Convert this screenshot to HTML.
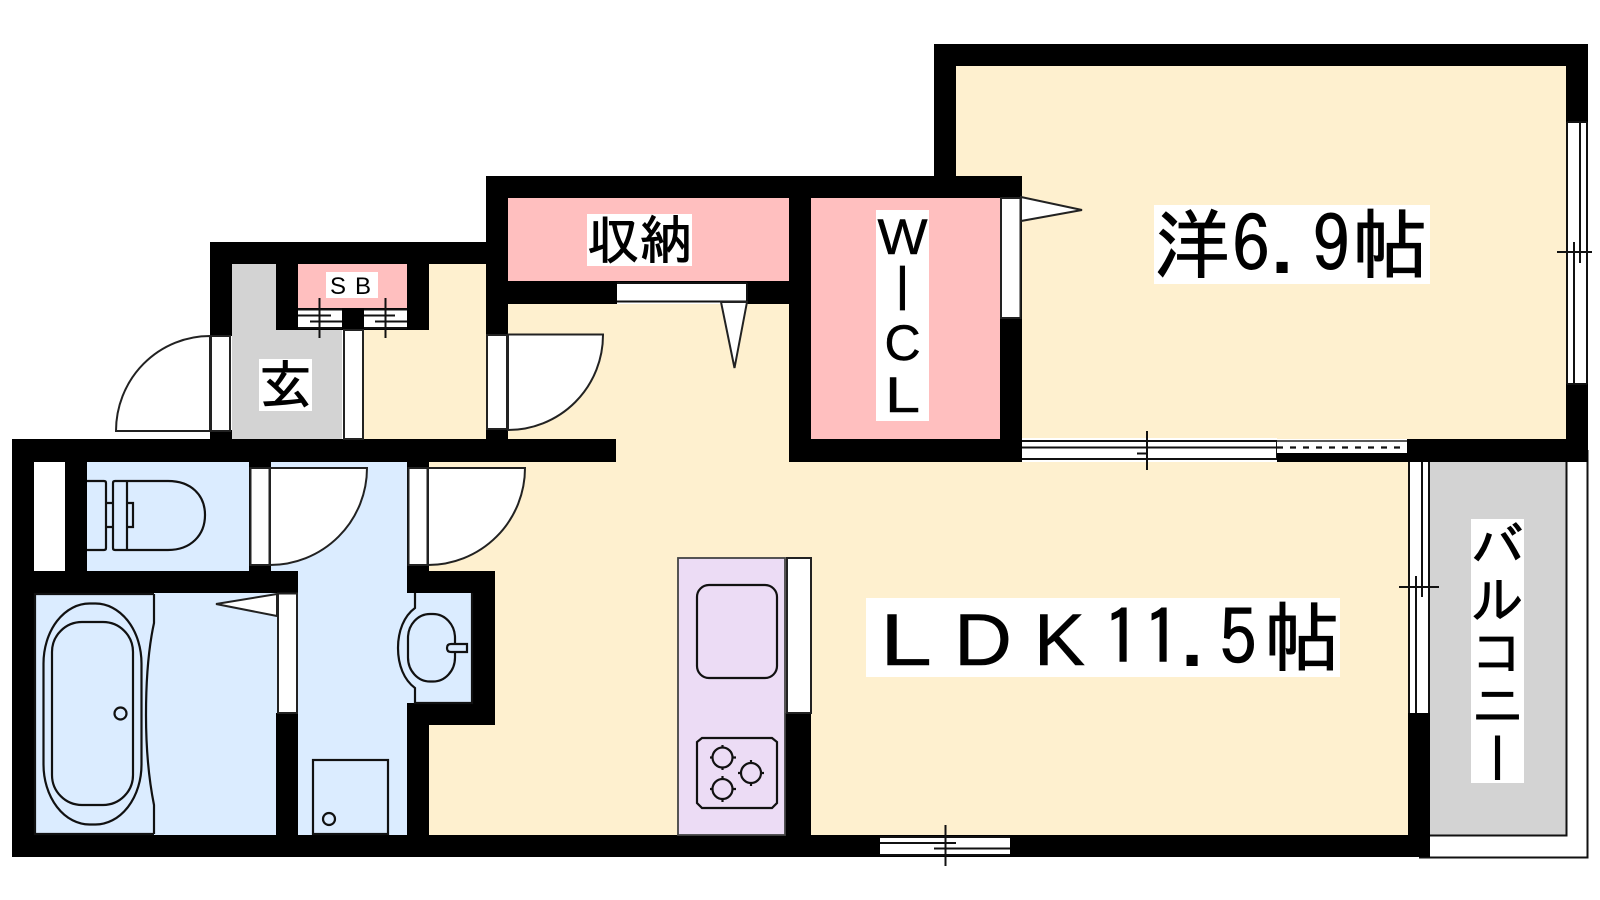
<!DOCTYPE html>
<html><head><meta charset="utf-8"><style>
html,body{margin:0;padding:0;background:#fff;width:1600px;height:900px;overflow:hidden}
svg{display:block}
.j{font-family:"IPAGothic","Noto Sans CJK JP",sans-serif;fill:#000;stroke:#000;stroke-width:.9}
.l{font-family:"Liberation Sans","IPAGothic",sans-serif;fill:#000;stroke:#000;stroke-width:.5}
.o{fill:none;stroke:#111;stroke-width:2.2}
.f{fill:#fff;stroke:#222;stroke-width:2}
.t{stroke:#111;stroke-width:2;fill:none}
</style></head><body>
<svg width="1600" height="900" viewBox="0 0 1600 900" xmlns="http://www.w3.org/2000/svg">
<rect width="1600" height="900" fill="#fff"/>
<!-- floors -->
<g fill="#FEF0CF">
<rect x="955" y="66" width="611" height="373"/>
<rect x="429" y="462" width="979" height="373"/>
<rect x="508" y="304" width="281" height="158"/>
<rect x="1000" y="430" width="408" height="40"/>
<rect x="364" y="264" width="122" height="175"/>
</g>
<g fill="#DBECFF">
<rect x="87" y="462" width="162" height="109"/>
<rect x="271" y="462" width="136" height="373"/>
<rect x="34" y="593" width="242" height="242"/>
<rect x="407" y="593" width="66" height="110"/>
</g>
<g fill="#FFBFBF">
<rect x="508" y="198" width="281" height="83"/>
<rect x="811" y="198" width="189" height="241"/>
<rect x="298" y="264" width="109" height="44"/>
</g>
<g fill="#D3D3D3">
<rect x="232" y="264" width="44" height="175"/>
<rect x="276" y="330" width="66" height="109"/>
<rect x="1430" y="462" width="136" height="373"/>
</g>
<!-- balcony outline -->
<path d="M1430,835.5H1566.5V462" class="t"/>
<path d="M1419,857.5H1587.5V450" class="t"/>
<!-- walls -->
<g fill="#000">
<rect x="934" y="44" width="654" height="22"/>
<rect x="934" y="44" width="22" height="132"/>
<rect x="1566" y="44" width="22" height="78"/>
<rect x="1566" y="384" width="22" height="78"/>
<rect x="1407" y="439" width="181" height="23"/>
<rect x="486" y="176" width="536" height="22"/>
<rect x="1000" y="176" width="22" height="286"/>
<rect x="789" y="439" width="233" height="23"/>
<rect x="789" y="176" width="22" height="286"/>
<rect x="486" y="281" width="303" height="23"/>
<rect x="486" y="176" width="22" height="159"/>
<rect x="486" y="429" width="22" height="10"/>
<rect x="210" y="242" width="276" height="22"/>
<rect x="210" y="242" width="22" height="94"/>
<rect x="210" y="430" width="22" height="10"/>
<rect x="276" y="264" width="22" height="66"/>
<rect x="407" y="264" width="22" height="66"/>
<rect x="298" y="308" width="109" height="22"/>
<rect x="12" y="439" width="604" height="23"/>
<rect x="12" y="439" width="22" height="418"/>
<rect x="12" y="835" width="1418" height="22"/>
<rect x="1408" y="713" width="22" height="144"/>
<rect x="65" y="462" width="22" height="109"/>
<rect x="12" y="571" width="286" height="22"/>
<rect x="249" y="462" width="22" height="109"/>
<rect x="407" y="462" width="22" height="131"/>
<rect x="407" y="571" width="88" height="22"/>
<rect x="473" y="571" width="22" height="154"/>
<rect x="407" y="703" width="88" height="22"/>
<rect x="407" y="703" width="22" height="154"/>
<rect x="276" y="713" width="22" height="130"/>
<rect x="785" y="713" width="26" height="130"/>
</g>
<!-- SB windows -->
<rect x="298" y="309" width="44" height="20" fill="#fff"/>
<rect x="364" y="309" width="43" height="20" fill="#fff"/>
<path d="M298,309.5H342M298,315.5H331M310,321.5H342M298,328H342M364,309.5H407M364,315.5H395M375,321.5H407M364,328H407M319.5,298V338M385.5,298V338" class="t"/>
<!-- door frames -->
<path d="M116,431H210V336A94,95 0 0 0 116,431Z" class="f"/>
<rect x="211" y="336" width="19" height="95" class="f"/>
<rect x="344" y="330" width="19" height="109" class="f"/>
<rect x="487" y="335" width="20" height="94" class="f"/>
<path d="M508,334.5H603A95,95 0 0 1 508,430Z" class="f"/>
<rect x="250.5" y="468" width="19" height="97" class="f"/>
<path d="M270,468H367A97,97 0 0 1 270,565Z" class="f"/>
<rect x="408.5" y="468" width="19" height="97" class="f"/>
<path d="M428,468H525A97,97 0 0 1 428,565Z" class="f"/>
<rect x="278" y="593.5" width="19" height="119.5" class="f"/>
<path d="M277,594L216,604L277,616Z" class="f"/>
<rect x="1001" y="198" width="19.5" height="120" class="f"/>
<path d="M1021,197L1082,210L1021,221Z" class="f"/>
<!-- storage door -->
<rect x="617" y="282" width="130" height="22" fill="#fff"/>
<path d="M617,283H747M617,301.5H747M747,283V301" class="t"/>
<path d="M721,302L747,302L734.5,368Z" class="f"/>
<!-- windows -->
<rect x="1022" y="438" width="255" height="24" fill="#fff"/>
<path d="M1022,441H1277M1022,447.5H1277M1022,459H1277M1277,441V459M1147,431V470M1137,453.5H1147" class="t"/>
<rect x="1277" y="439" width="130" height="14" fill="#fff"/>
<rect x="1277" y="453" width="130" height="9" fill="#000"/>
<path d="M1277,447.5H1407" stroke="#111" stroke-width="2.2" stroke-dasharray="6,7" fill="none"/>
<path d="M1277,441H1407" stroke="#222" stroke-width="1.4" fill="none"/>
<rect x="880" y="836" width="130" height="20" fill="#fff"/>
<path d="M880,837H1010M880,843H956M934,848.5H1010M880,855H1010M945.5,825V866" class="t"/>
<rect x="1567" y="122" width="20" height="262" fill="#fff"/>
<path d="M1567,122V384M1587,122V384M1567,122H1587M1567,384H1587M1580,122V263M1574,242V384M1557,252H1592" class="t"/>
<rect x="1409" y="462" width="20" height="251" fill="#fff"/>
<path d="M1409,462V713M1429,462V713M1422,462V597M1416,576V713M1399,587H1439" class="t"/>
<!-- toilet -->
<path d="M87,481H104Q106,481 106,483V548Q106,550 104,550H87M106,503H113M106,527H113M113,483Q113,481 115,481H127V550H115Q113,550 113,548ZM127,481H168C191,481 205,495 205,515C205,535 191,550 168,550H127M127,503H133V527H127" class="o"/>
<!-- tub -->
<path d="M154,594H35V834H154" class="o"/>
<path d="M154,594V623C147,655 146,690 146,715C146,745 148,775 154,805V834" class="o"/>
<rect x="43.5" y="603.5" width="98" height="221" rx="46" ry="60" class="o"/>
<rect x="52" y="622" width="81" height="183" rx="30" ry="30" class="o"/>
<circle cx="120.5" cy="713.5" r="6" class="o"/>
<!-- washer -->
<rect x="313" y="760" width="75" height="74" class="o"/>
<circle cx="329" cy="819" r="6" class="o"/>
<!-- sink -->
<path d="M472,593V703H415V688C404,680 398,665 398,648C398,631 404,616 415,608V593" class="o"/>
<rect x="408" y="614" width="47" height="67.5" rx="22" ry="24" class="o"/>
<path d="M467,644H451Q447,644 447,648Q447,652 451,652H467Z" class="o" style="fill:#DBECFF"/>
<!-- kitchen -->
<rect x="678" y="558" width="107" height="277" fill="#ECDCF5" stroke="#444" stroke-width="1.8"/>
<rect x="787" y="558" width="24" height="155" class="f"/>
<rect x="697" y="585" width="80" height="93" rx="12" class="o"/>
<path d="M702,738H772L777,742V803L772,808H702L697,803V742Z" class="o"/>
<path d="M710,757.5H736M722.5,745V770M738,773H764M751,760V786M710,789H736M722.5,776V802" class="o"/>
<g fill="#ECDCF5" stroke="#111" stroke-width="2.2">
<circle cx="722.5" cy="757.5" r="10"/><circle cx="751" cy="773" r="10"/><circle cx="722.5" cy="789" r="10"/>
</g>
<!-- labels -->
<g fill="#fff">
<rect x="259" y="359" width="53" height="52"/>
<rect x="326" y="272" width="52" height="26"/>
<rect x="587" y="214" width="105" height="52"/>
<rect x="876" y="210" width="53" height="211"/>
<rect x="1154" y="205" width="276" height="79"/>
<rect x="866" y="598" width="474" height="79"/>
<rect x="1471" y="519" width="53" height="264"/>
</g>
<text class="j" x="259" y="404" font-size="53">玄</text>
<text class="l" x="330" y="294" font-size="24" style="stroke:none">S</text>
<text class="l" x="355" y="294" font-size="24" style="stroke:none">B</text>
<text class="j" x="587" y="259" font-size="52.5">収納</text>
<g class="l">
<text transform="translate(902.5,254) scale(1.06,1)" font-size="50" text-anchor="middle">W</text>
<text transform="translate(902.5,310) scale(1,1.28)" font-size="50" text-anchor="middle">I</text>
<text x="902.5" y="360" font-size="50" text-anchor="middle">C</text>
<text transform="translate(885,412) scale(1.26,1)" font-size="50">L</text>
</g>
<text class="j" y="272" font-size="76" x="1154 1232 1270 1312 1352">洋6.9帖</text>
<g class="l">
<text transform="translate(880,665) scale(1.28,1)" font-size="73">L</text>
<text transform="translate(954,665) scale(1.1,1)" font-size="73">D</text>
<text transform="translate(1034,665) scale(1.05,1)" font-size="73">K</text>
</g>
<text class="j" y="665" font-size="76" x="1103 1143 1180 1219 1264">11.5帖</text>
<text class="j" font-size="52.8" x="1497.5" y="519" style="writing-mode:vertical-rl;glyph-orientation-vertical:auto">バルコニー</text>
</svg>
</body></html>
